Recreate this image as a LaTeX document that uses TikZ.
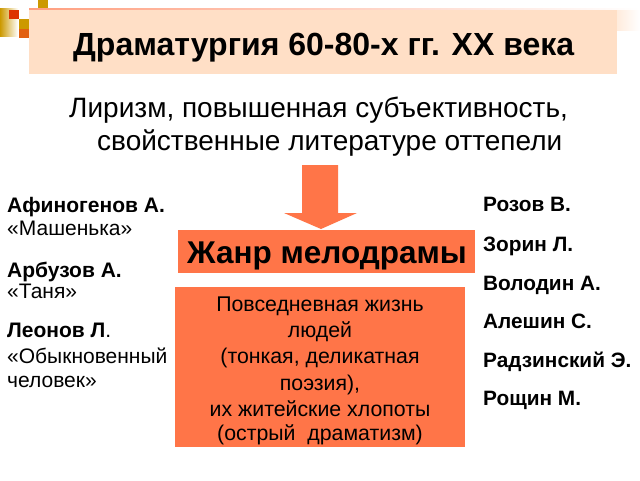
\documentclass[tikz,border=0pt]{standalone}
\usepackage{fontspec}
\setmainfont{Liberation Sans}
\begin{document}
\begin{tikzpicture}[x=1pt,y=-1pt,
  txt/.style={inner sep=0pt,anchor=base west,font=\fontsize{21}{23}\selectfont},
  btxt/.style={txt,font=\fontsize{21}{23}\selectfont\bfseries},
  rtxt/.style={txt,font=\fontsize{20.8}{23}\selectfont\bfseries},
  mid/.style={inner sep=0pt,anchor=base,font=\fontsize{21.3}{23}\selectfont}]
\definecolor{peach}{RGB}{255,223,198}
\definecolor{coral}{RGB}{255,117,72}
\definecolor{gold}{RGB}{204,153,0}
\definecolor{redor}{RGB}{221,51,0}
\definecolor{oran}{RGB}{226,96,16}
\useasboundingbox (0,0) rectangle (640,480);
\fill[white] (0,0) rectangle (640,480);
% decorative squares
\shade[left color=gold,right color=white] (0,8) rectangle (18,36);
\fill[redor] (9,10) rectangle (19,19);
\fill[gold] (19,19) rectangle (29,29);
\fill[oran] (19,29) rectangle (29,38);
\fill[gold] (38,0) rectangle (48,9);
% title box
\shade[left color=peach!60,right color=white] (617,9) rectangle (640,30);
\fill[peach] (29,9) rectangle (617,74);
\shade[left color=coral!70,right color=white] (29,8.4) rectangle (640,9.6);
\node[inner sep=0pt,anchor=base west,font=\fontsize{32}{34}\selectfont\bfseries] (title) at (73,55) {Драматургия 60-80-х гг. XX века};
% subtitle
\node[inner sep=0pt,anchor=base west,font=\fontsize{28}{30}\selectfont] (sub1) at (69,117) {Лиризм, повышенная субъективность,};
\node[inner sep=0pt,anchor=base west,font=\fontsize{28}{30}\selectfont] (sub2) at (97,150) {свойственные литературе оттепели};
% arrow
\fill[coral] (302,165) -- (338,165) -- (338,213) -- (357,213) -- (321,229) -- (284,213) -- (302,213) -- cycle;
% genre box
\fill[coral] (178,230) rectangle (475,273);
\node[inner sep=0pt,anchor=base,font=\fontsize{31.5}{33}\selectfont\bfseries] (genre) at (327,263) {Жанр мелодрамы};
% description box
\fill[coral] (175,287) rectangle (465,447);
\node[mid] (d1) at (320,311) {Повседневная жизнь};
\node[mid] (d2) at (320,337) {людей};
\node[mid] (d3) at (320,363) {(тонкая, деликатная};
\node[mid] (d4) at (320,390) {поэзия),};
\node[mid] (d5) at (320,416) {их житейские хлопоты};
\node[mid] (d6) at (320,440) {(острый\ \ драматизм)};
% left column
\node[btxt] (l1) at (7,212) {Афиногенов А.};
\node[txt] (l2) at (7,235) {«Машенька»};
\node[btxt] (l3) at (7,277) {Арбузов А.};
\node[txt] (l4) at (7,298) {«Таня»};
\node[txt] (l5) at (7,337) {\textbf{Леонов Л}.};
\node[txt] (l6) at (7,363) {«Обыкновенный};
\node[txt] (l7) at (7,387) {человек»};
% right column
\node[rtxt] (r1) at (483,211) {Розов В.};
\node[rtxt] (r2) at (483,251) {Зорин Л.};
\node[rtxt] (r3) at (483,290) {Володин А.};
\node[rtxt] (r4) at (483,328) {Алешин С.};
\node[rtxt] (r5) at (483,367) {Радзинский Э.};
\node[rtxt] (r6) at (483,405) {Рощин М.};
\end{tikzpicture}
\end{document}
